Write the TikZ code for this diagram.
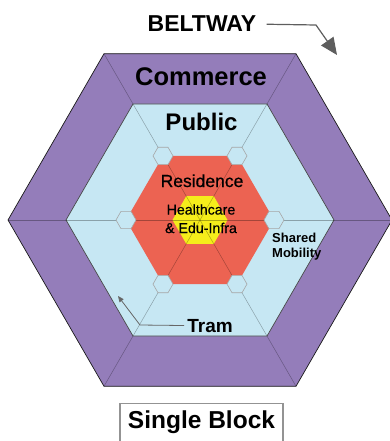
\documentclass[tikz,border=0pt]{standalone}
\usepackage{fontspec}
\setmainfont{Liberation Sans}
\newfontfamily\mediumface{Liberation Sans}[FakeBold=0.6]
\usetikzlibrary{arrows.meta, shapes.geometric}
\definecolor{ink}{RGB}{25,25,25}
\definecolor{commercepurple}{RGB}{148,125,186}
\definecolor{publicblue}{RGB}{198,231,243}
\definecolor{residencered}{RGB}{236,99,82}
\definecolor{coreyellow}{RGB}{245,237,27}

\begin{document}
\begin{tikzpicture}[
    x=1pt, y=-1pt,
    hexzone/.style={regular polygon, regular polygon sides=6,
                    inner sep=0pt, outer sep=0pt},
    spoke/.style={draw=black, opacity=0.3, line width=0.5pt},
    stop/.style={hexzone, minimum size=20pt, fill=publicblue,
                 draw=gray!70, line width=0.6pt},
    zone/.style={anchor=base, inner sep=0pt, align=center,
                 font=\bfseries\fontsize{#1}{1.15\dimexpr#1pt\relax}\selectfont},
    thin zone/.style={anchor=base, inner sep=0pt, align=center,
                 font=\mediumface\fontsize{#1}{1.3\dimexpr#1pt\relax}\selectfont},
    arr/.style={draw=ink!70, line width=1.2pt}
  ]
    \useasboundingbox (0,0) rectangle (390,441);
    \coordinate (hub) at (200,220);

    % rings of the block
    \node[hexzone, minimum size=384pt, fill=commercepurple, draw=ink, line width=0.7pt] (commerce) at (hub) {};
    \node[hexzone, minimum size=268pt, fill=publicblue, draw=ink!80, line width=0.7pt] (public) at (hub) {};
    \node[hexzone, minimum size=148pt, fill=residencered] (residence) at (hub) {};
    \node[hexzone, minimum size=55pt, fill=coreyellow] (core) at (hub) {};

    \foreach \i in {1,...,6}
      \draw[spoke] (hub) -- (commerce.corner \i);

    % tram stops
    \foreach \i in {1,...,6}
      \node[stop] (stop\i) at (residence.corner \i) {};

    % labels (multi-line ones sit on their last line)
    \node[zone=25.5] (commercelabel) at (201,85) {Commerce};
    \node[zone=24] (publiclabel) at (201.5,130) {Public};
    \node[thin zone=17.5] (residencelabel) at (202,187) {Residence};
    \node[thin zone=14.2] (corelabel) at (201,233) {Healthcare\\\& Edu-Infra};
    \node[zone=13, align=left, anchor=base west] (mobility) at (272,257) {Shared\\Mobility};
    \node[zone=19] (tram) at (210,332) {Tram};
    \node[zone=23] (beltway) at (202,32) {BELTWAY};

    \node[zone=24.5, draw=gray!85, line width=1.2pt, minimum width=163pt,
          inner sep=7pt, text depth=14pt] (block) at (201.5,428) {Single Block};

    % pointers
    \coordinate (beltbend) at (316,25);
    \coordinate (beltend) at (337,55);
    \draw[arr, -{Triangle[length=17pt,width=15pt]}, shorten <=10pt]
      (beltway.east) -- (beltbend) -- (beltend);

    \coordinate (trambend) at (140,325);
    \coordinate (tramend) at (118,296);
    \draw[arr, draw=gray!80!black, line width=0.8pt,
          -{Triangle[length=6pt,width=5pt]}, shorten <=3pt]
      (tram.west) -- (trambend) -- (tramend);
\end{tikzpicture}
\end{document}
